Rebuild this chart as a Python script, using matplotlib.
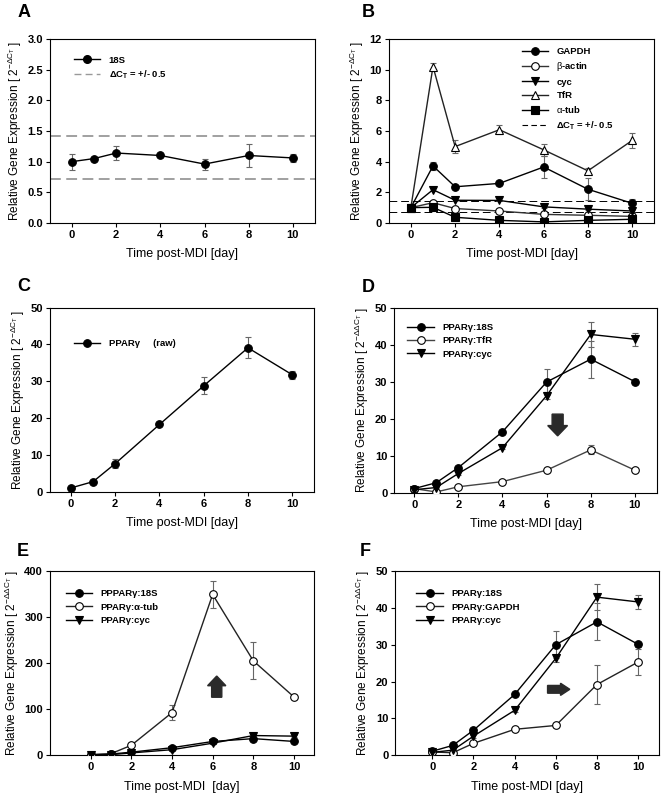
import matplotlib
matplotlib.use("Agg")
import matplotlib.pyplot as plt
from matplotlib.lines import Line2D

plt.rcParams['font.family'] = ['Liberation Sans', 'DejaVu Sans']
plt.rcParams['mathtext.fontset'] = 'custom'
plt.rcParams['mathtext.rm'] = 'Liberation Sans'
plt.rcParams['mathtext.it'] = 'Liberation Sans'
plt.rcParams['mathtext.bf'] = 'Liberation Sans:bold'

# ---------------- data ----------------
days = [0, 1, 2, 4, 6, 8, 10]

# Panel A
a_18s = [1.00, 1.05, 1.14, 1.10, 0.96, 1.10, 1.06]
a_18s_err = [0.13, 0.02, 0.11, 0.02, 0.09, 0.18, 0.07]
dct_band = [1.41, 0.71]

# Panel B
b_gapdh = [1.0, 3.72, 2.36, 2.58, 3.65, 2.2, 1.28]
b_gapdh_err = [0.08, 0.25, 0.1, 0.1, 0.7, 0.7, 0.3]
b_actin = [1.0, 1.32, 0.94, 0.78, 0.56, 0.5, 0.43]
b_actin_err = [0.05, 0.08, 0.05, 0.05, 0.05, 0.05, 0.05]
b_cyc = [1.0, 2.17, 1.48, 1.47, 1.05, 0.9, 0.78]
b_cyc_err = [0.05, 0.1, 0.05, 0.05, 0.05, 0.05, 0.05]
b_tfr = [1.0, 10.2, 4.98, 6.08, 4.77, 3.4, 5.38]
b_tfr_err = [0.1, 0.25, 0.4, 0.3, 0.4, 0.2, 0.5]
b_atub = [1.0, 1.02, 0.37, 0.17, 0.07, 0.17, 0.24]
b_atub_err = [0.05, 0.05, 0.05, 0.03, 0.03, 0.05, 0.05]

# Panel C
c_raw = [1.1, 2.8, 7.7, 18.3, 28.8, 39.1, 31.8]
c_raw_err = [0.2, 0.3, 1.3, 0.4, 2.3, 2.8, 1.1]

# Panels D, E, F
p_18s = [1.1, 2.7, 6.8, 16.5, 30.0, 36.2, 30.1]
p_18s_err = [0.2, 0.3, 0.5, 0.4, 3.6, 5.0, 0.6]
p_cyc = [0.8, 1.4, 5.2, 12.2, 26.3, 42.9, 41.6]
p_cyc_err = [0.1, 0.2, 0.4, 0.4, 1.0, 3.5, 1.8]
d_tfr = [1.1, 0.2, 1.6, 3.0, 6.1, 11.6, 6.1]
d_tfr_err = [0.1, 0.05, 0.2, 0.3, 0.3, 1.2, 0.3]
e_atub = [1.4, 3.6, 21.7, 92.6, 349, 205, 126.6]
e_atub_err = [1.0, 1.0, 2.0, 16, 29, 40, 3]
f_gapdh = [0.9, 0.7, 3.25, 7.05, 8.1, 19.2, 25.3]
f_gapdh_err = [0.1, 0.1, 0.3, 0.3, 0.4, 5.3, 3.5]

# annotation arrows (x, y, dx, dy)
d_arrow = (6.5, 21.3, 0.0, -5.9)
e_arrow = (6.2, 126.0, 0.0, 46.0)
f_arrow = (5.6, 17.9, 1.08, 0.0)

ylab1 = r'Relative Gene Expression [ 2$^{\mathrm{-\Delta C_T}}$ ]'
ylab2 = r'Relative Gene Expression [ 2$^{\mathrm{-\Delta\Delta C_T}}$ ]'
xlab = 'Time post-MDI [day]'

fig = plt.figure(figsize=(6.62, 7.98), dpi=100)

pos = {
    'A': [0.0755, 0.7206, 0.4003, 0.2306],
    'B': [0.5872, 0.7206, 0.4012, 0.2306],
    'C': [0.0755, 0.3835, 0.3993, 0.2310],
    'D': [0.5956, 0.3826, 0.3968, 0.2311],
    'E': [0.0755, 0.0535, 0.3993, 0.2310],
    'F': [0.5971, 0.0535, 0.3979, 0.2310],
}

LW = 1.0
MS = 5.5
ECOL = '#666666'


def series(ax, y, err, marker, fill, label, color='black'):
    ax.errorbar(days, y, yerr=err, fmt='none', ecolor=ECOL, elinewidth=0.8,
                capsize=2.4, capthick=0.8, zorder=2)
    ax.plot(days, y, color=color, lw=LW, marker=marker, ms=MS,
            mfc=('black' if fill else 'white'), mec='black', mew=0.8,
            label=label, zorder=3)


def style(ax, ylim, yticks, xlim, ylabel, fmt=None, xlabel=xlab):
    ax.set_xlim(*xlim)
    ax.set_ylim(*ylim)
    ax.set_yticks(yticks)
    if fmt:
        ax.set_yticklabels([fmt.format(v) for v in yticks])
    ax.set_xticks([0, 2, 4, 6, 8, 10])
    ax.tick_params(direction='out', length=3, width=0.8, labelsize=8,
                   top=False, right=False, pad=2)
    for lab in ax.get_xticklabels() + ax.get_yticklabels():
        lab.set_fontweight('bold')
    for s in ax.spines.values():
        s.set_linewidth(0.8)
    ax.set_ylabel(ylabel, fontsize=8.5, labelpad=2.5)
    ax.set_xlabel(xlabel, fontsize=9, labelpad=6)


def leg(ax, anchor, handles=None):
    kw = dict(loc='upper left', bbox_to_anchor=anchor, frameon=False,
              prop={'size': 6.8, 'weight': 'bold'}, handlelength=2.8,
              handletextpad=0.9, labelspacing=0.45, borderaxespad=0,
              borderpad=0)
    if handles is not None:
        ax.legend(handles=handles, **kw)
    else:
        ax.legend(**kw)


def panel_label(letter, dx, dy):
    fig.text(dx, dy, letter, fontsize=13, fontweight='bold', va='top', ha='left')

# ---------- A ----------
axA = fig.add_axes(pos['A'])
series(axA, a_18s, a_18s_err, 'o', True, '18S')
for v in dct_band:
    axA.axhline(v, color='#999999', lw=1.3, ls=(0, (6, 3)), zorder=1)
style(axA, (0, 3.0), [0.0, 0.5, 1.0, 1.5, 2.0, 2.5, 3.0], (-1, 11), ylab1, '{:.1f}')
hA = [Line2D([], [], color='black', lw=LW, marker='o', ms=MS, label='18S'),
      Line2D([], [], color='#999999', lw=1.0, ls=(0, (5, 3)),
             label=r'$\mathbf{\Delta C_T}$ = +/- 0.5')]
leg(axA, (0.09, 0.91), hA)

# ---------- B ----------
axB = fig.add_axes(pos['B'])
series(axB, b_gapdh, b_gapdh_err, 'o', True, 'GAPDH')
series(axB, b_actin, b_actin_err, 'o', False, r'$\beta$-actin', color='#333333')
series(axB, b_cyc, b_cyc_err, 'v', True, 'cyc')
series(axB, b_tfr, b_tfr_err, '^', False, 'TfR', color='#222222')
series(axB, b_atub, b_atub_err, 's', True, r'$\alpha$-tub')
for v in dct_band:
    axB.axhline(v, color='black', lw=0.7, ls=(0, (8, 4)), zorder=1)
style(axB, (0, 12), [0, 2, 4, 6, 8, 10, 12], (-1, 11), ylab1)
hB = axB.get_legend_handles_labels()[0]
hB.append(Line2D([], [], color='black', lw=0.8, ls=(0, (5, 3)),
                 label=r'$\mathbf{\Delta C_T}$ = +/- 0.5'))
leg(axB, (0.50, 0.955), hB)

# ---------- C ----------
axC = fig.add_axes(pos['C'])
series(axC, c_raw, c_raw_err, 'o', True, 'PPAR\u03b3     (raw)')
style(axC, (0, 50), [0, 10, 20, 30, 40, 50], (-0.95, 11), ylab1)
leg(axC, (0.09, 0.83))

# ---------- D ----------
axD = fig.add_axes(pos['D'])
series(axD, p_18s, p_18s_err, 'o', True, 'PPAR\u03b3:18S')
series(axD, d_tfr, d_tfr_err, 'o', False, 'PPAR\u03b3:TfR', color='#444444')
series(axD, p_cyc, p_cyc_err, 'v', True, 'PPAR\u03b3:cyc')
style(axD, (0, 50), [0, 10, 20, 30, 40, 50], (-0.9, 11), ylab2)
leg(axD, (0.05, 0.92))
axD.arrow(*d_arrow, width=0.5, head_width=0.9, head_length=2.8,
          length_includes_head=True, color='#2a2a2a', zorder=4)

# ---------- E ----------
axE = fig.add_axes(pos['E'])
series(axE, p_18s, p_18s_err, 'o', True, 'PPPAR\u03b3:18S')
series(axE, e_atub, e_atub_err, 'o', False, 'PPAR\u03b3:\u03b1-tub', color='#222222')
series(axE, p_cyc, p_cyc_err, 'v', True, 'PPAR\u03b3:cyc')
style(axE, (0, 400), [0, 100, 200, 300, 400], (-2, 11), ylab2,
      xlabel='Time post-MDI  [day]')
leg(axE, (0.06, 0.90))
axE.arrow(*e_arrow, width=0.5, head_width=0.9, head_length=21,
          length_includes_head=True, color='#2a2a2a', zorder=4)

# ---------- F ----------
axF = fig.add_axes(pos['F'])
series(axF, p_18s, p_18s_err, 'o', True, 'PPAR\u03b3:18S')
series(axF, f_gapdh, f_gapdh_err, 'o', False, 'PPAR\u03b3:GAPDH', color='#222222')
series(axF, p_cyc, p_cyc_err, 'v', True, 'PPAR\u03b3:cyc')
style(axF, (0, 50), [0, 10, 20, 30, 40, 50], (-1.8, 11), ylab2)
leg(axF, (0.08, 0.90))
axF.arrow(*f_arrow, width=2.1, head_width=3.3, head_length=0.45,
          length_includes_head=True, color='#2a2a2a', zorder=4)

# panel letters
panel_label('A', 0.026, 0.995)
panel_label('B', 0.546, 0.995)
panel_label('C', 0.026, 0.652)
panel_label('D', 0.546, 0.650)
panel_label('E', 0.026, 0.320)
panel_label('F', 0.543, 0.320)

fig.savefig('out.png', dpi=100)
